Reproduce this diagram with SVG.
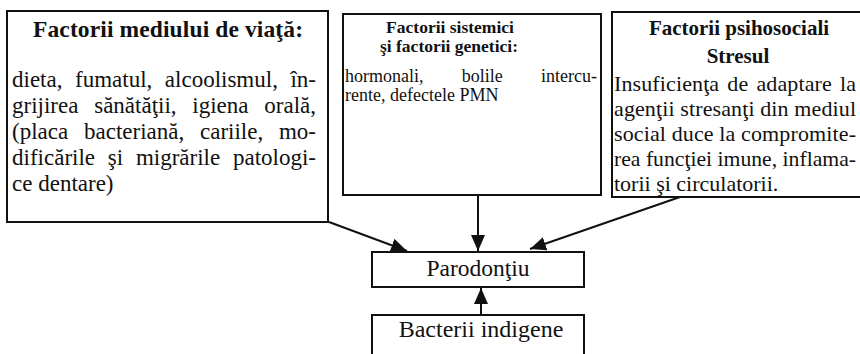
<svg xmlns="http://www.w3.org/2000/svg" width="860" height="354" viewBox="0 0 860 354">
<defs>
<style>
.box{fill:#fff;stroke:#111;stroke-width:2}
.t{font-family:"Liberation Serif","Times New Roman",serif;fill:#111}
.b{font-weight:bold}
.c{text-anchor:middle}
.con{stroke:#111;stroke-width:2;fill:none}
</style>
<marker id="ah" markerUnits="userSpaceOnUse" markerWidth="17" markerHeight="15" refX="16" refY="7" orient="auto">
<path d="M0,0 L16,7 L0,14 z" fill="#111"/>
</marker>
</defs>
<rect width="860" height="354" fill="#fff"/>
<g id="connectors">
<path class="con" d="M329,222 L407,251" marker-end="url(#ah)"/>
<path class="con" d="M478,195 L478,251" marker-end="url(#ah)"/>
<path class="con" d="M680,197 L530,249" marker-end="url(#ah)"/>
<path class="con" d="M481,315 L481,288" marker-end="url(#ah)"/>
</g>
<g id="node-mediu">
<rect class="box" x="7" y="11" width="321" height="211"/>
<text class="t b c" x="168" y="37" font-size="23.5" textLength="270" lengthAdjust="spacing">Factorii mediului de viaţă:</text>
<text class="t" font-size="23" x="12" y="87" word-spacing="6.8" textLength="304" lengthAdjust="spacing">dieta, fumatul, alcoolismul, în-</text>
<text class="t" font-size="23" x="12" y="113" word-spacing="10" textLength="304" lengthAdjust="spacing">grijirea sănătăţii, igiena orală,</text>
<text class="t" font-size="23" x="12" y="139" word-spacing="10" textLength="304" lengthAdjust="spacing">(placa bacteriană, cariile, mo-</text>
<text class="t" font-size="23" x="12" y="165" word-spacing="7" textLength="304" lengthAdjust="spacing">dificările şi migrările patologi-</text>
<text class="t" font-size="23" x="12" y="191">ce dentare)</text>
</g>
<g id="node-sistemici">
<rect class="box" x="343" y="14" width="258" height="181"/>
<text class="t b c" x="450" y="33" font-size="17.5">Factorii sistemici</text>
<text class="t b c" x="449" y="52" font-size="17.5">şi factorii genetici:</text>
<text class="t" font-size="18" x="345" y="82" word-spacing="33.7" textLength="252" lengthAdjust="spacing">hormonali, bolile intercu-</text>
<text class="t" font-size="18" x="345" y="101">rente, defectele PMN</text>
</g>
<g id="node-psihosociali">
<rect class="box" x="612" y="12" width="252" height="185"/>
<text class="t b c" x="739" y="35" font-size="21">Factorii psihosociali</text>
<text class="t b c" x="738" y="63" font-size="21">Stresul</text>
<text class="t" font-size="22" x="614" y="91" word-spacing="2.5" textLength="242" lengthAdjust="spacing">Insuficienţa de adaptare la</text>
<text class="t" font-size="22" x="614" y="116" textLength="242" lengthAdjust="spacing">agenţii stresanţi din mediul</text>
<text class="t" font-size="22" x="614" y="141" textLength="242" lengthAdjust="spacing">social duce la compromite-</text>
<text class="t" font-size="22" x="614" y="166" textLength="242" lengthAdjust="spacingAndGlyphs">rea funcţiei imune, inflama-</text>
<text class="t" font-size="22" x="614" y="191">torii şi circulatorii.</text>
</g>
<g id="node-parodontiu">
<rect class="box" x="372" y="252" width="212" height="35"/>
<text class="t c" x="478" y="276" font-size="23.5">Parodonţiu</text>
</g>
<g id="node-bacterii">
<rect class="box" x="372" y="315" width="212" height="46"/>
<text class="t c" x="481" y="337" font-size="24">Bacterii indigene</text>
</g>
</svg>
